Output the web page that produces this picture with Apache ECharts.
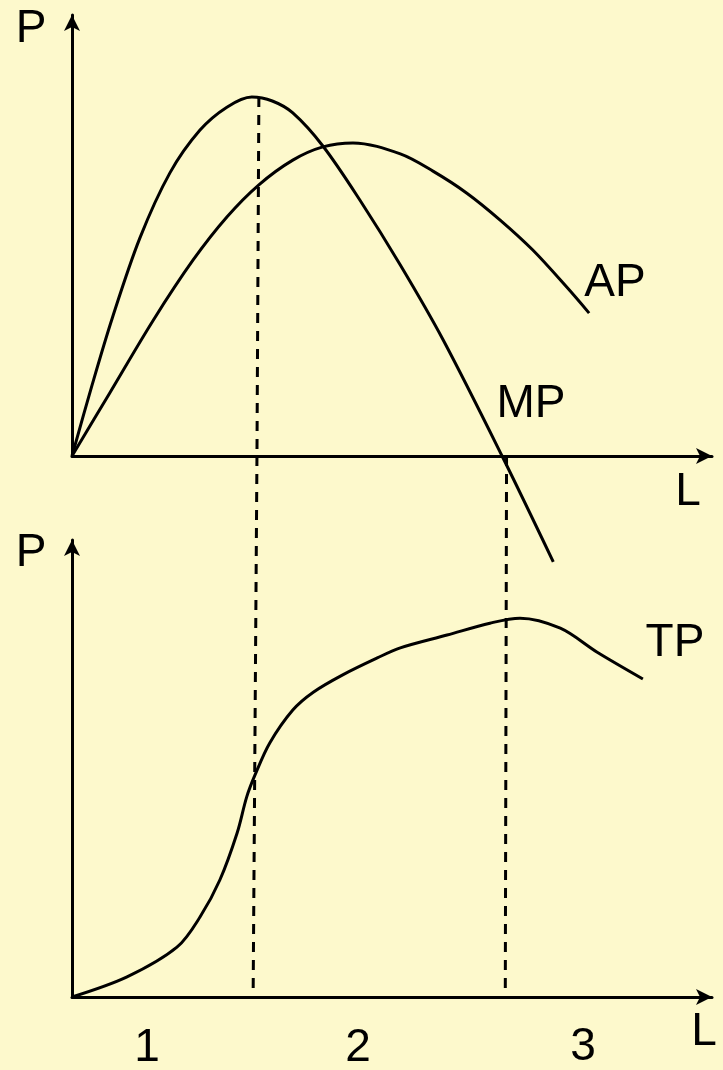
<!DOCTYPE html>
<html>
<head>
<meta charset="utf-8">
<script src="https://cdn.jsdelivr.net/npm/echarts@6/dist/echarts.min.js"></script>
<style>
  html, body { margin: 0; padding: 0; background: #fdf9cc; }
  #chart { width: 723px; height: 1070px; }
</style>
</head>
<body>
<div id="chart"></div>
<script>
// top panel: marginal and average product (L on x, P on y)
const mpX = [0, 3.1, 6.3, 10.6, 15.3, 20.0, 24.2, 28.1, 31.3, 34.5, 39.2, 45.0, 51.3, 58.0, 67.2, 75.2];
const mpY = [0, 15.9, 31.3, 49.4, 64.2, 73.9, 79.1, 81.4, 80.5, 77.8, 70.3, 58.0, 43.3, 26.3, 0, -24.0];
const apX = [0, 5.9, 12.7, 18.9, 24.2, 29.2, 34.5, 39.2, 43.9, 51.3, 56.4, 61.7, 66.9, 72.0, 77.3, 80.8];
const apY = [0, 14.3, 30.8, 44.4, 54.2, 61.5, 67.1, 70.1, 71.0, 68.5, 64.6, 59.6, 53.5, 46.7, 38.3, 32.4];

// bottom panel: total product
const tpX = [0, 8.6, 16.4, 20.0, 23.1, 25.8, 27.3, 28.6, 30.9, 34.5, 37.7, 42.3, 47.7, 51.3, 58.6, 65.3, 70.0, 76.3, 82.0, 89.2];
const tpY = [0, 4.4, 10.9, 17.5, 25.6, 35.9, 43.8, 48.6, 55.6, 62.8, 66.7, 70.5, 74.2, 76.4, 79.2, 81.8, 82.9, 80.7, 75.5, 69.6];

// dashed guides (stage boundaries)
const guide1TopX = [29.2, 28.9], guide1TopY = [81.4, 0];
const guide1BotX = [28.9, 28.3], guide1BotY = [118.4, 0];
const guide2BotX = [67.9, 67.7], guide2BotY = [118.4, 0];

const stageLabels = ['1', '2', '3'];

const zip = (xs, ys) => xs.map((x, i) => [x, ys[i]]);

const chart = echarts.init(document.getElementById('chart'), null, { renderer: 'canvas' });

const axisLine = {
  show: true,
  symbol: ['none', 'arrow'],
  symbolSize: [12, 16],
  lineStyle: { color: '#000', width: 3 }
};
const bareAxis = (gridIndex, max) => ({
  type: 'value',
  gridIndex: gridIndex,
  min: 0,
  max: max,
  axisLine: axisLine,
  axisTick: { show: false },
  axisLabel: { show: false },
  splitLine: { show: false }
});

const curve = (data, xi, yi) => ({
  type: 'line',
  xAxisIndex: xi,
  yAxisIndex: yi,
  data: data,
  smooth: 0.33,
  symbol: 'none',
  clip: false,
  lineStyle: { color: '#000', width: 3 }
});
const dashed = (data, xi, yi) => ({
  type: 'line',
  xAxisIndex: xi,
  yAxisIndex: yi,
  data: data,
  symbol: 'none',
  clip: false,
  lineStyle: { color: '#000', width: 3, type: [10, 8] }
});

const font = '46px "Liberation Sans", Arial, sans-serif';
const txt = (text, x, y) => ({
  type: 'text',
  x: x,
  y: y,
  style: { text: text, font: font, fill: '#000', align: 'center', verticalAlign: 'middle' }
});

const option = {
  animation: false,
  backgroundColor: '#fdf9cc',
  grid: [
    { left: 72, top: 15, width: 640, height: 441 },
    { left: 72, top: 540, width: 640, height: 457 }
  ],
  xAxis: [bareAxis(0, 100), bareAxis(1, 100)],
  yAxis: [bareAxis(0, 100), bareAxis(1, 100)],
  series: [
    dashed(zip(guide1TopX, guide1TopY), 0, 0),
    dashed(zip(guide1BotX, guide1BotY), 1, 1),
    dashed(zip(guide2BotX, guide2BotY), 1, 1),
    curve(zip(mpX, mpY), 0, 0),
    curve(zip(apX, apY), 0, 0),
    curve(zip(tpX, tpY), 1, 1)
  ],
  graphic: [
    txt('P', 31, 29),
    txt('AP', 615, 283),
    txt('MP', 531, 404),
    txt('L', 688, 492),
    txt('P', 31, 553),
    txt('TP', 675, 643),
    txt('L', 704, 1032),
    txt(stageLabels[0], 147, 1048),
    txt(stageLabels[1], 358, 1048),
    txt(stageLabels[2], 583, 1047)
  ]
};

chart.setOption(option);
</script>
</body>
</html>
